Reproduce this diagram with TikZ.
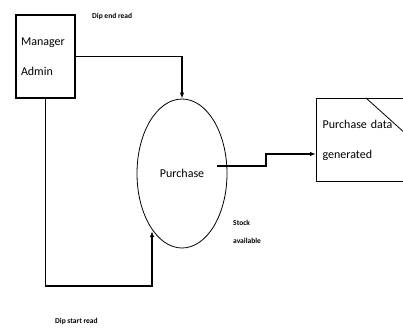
\documentclass[tikz,border=0pt]{standalone}
\usepackage{fontspec}
\setmainfont{Carlito}
\usetikzlibrary{arrows.meta,shapes.geometric}
\begin{document}
\begin{tikzpicture}[x=1pt, y=-1pt, line join=miter, font=\fontsize{12}{30}\selectfont,
	flow/.style={draw, line width=1.3pt, -{Latex[length=6pt,width=4.5pt]}},
	lbl/.style={font=\fontsize{7.5}{18}\selectfont\bfseries, anchor=west, align=left, inner sep=0pt}]
	\useasboundingbox (0,0) rectangle (403,330);
	
	\node[draw, line width=1.2pt, minimum width=59pt, minimum height=83pt, text width=49pt,
	align=left, inner sep=5pt] (admin) at (45.5,56.5) {Manager\\Admin};
	\node[ellipse, draw, line width=0.8pt, minimum width=90pt, minimum height=149pt,
	inner sep=0pt] (purchase) at (182,173.5) {Purchase};
	\node[draw, line width=1.2pt, anchor=north west, minimum width=100pt, minimum height=83pt,
	text width=88pt, align=left, inner sep=6pt] (store) at (316,98) {Purchase data\\generated\\[6pt]};
	\draw[line width=0.8pt] (366,98) -- (406,134);
	
	\coordinate (out) at (217,166);
	\coordinate (step) at (266,154);
	\coordinate (loop) at (152,286);
	\coordinate (inlet) at (152,231);
	
	\draw[flow] (admin.east) -| (purchase.north);
	\draw[flow] (admin.south) |- (loop) -- (inlet);
	\draw[flow] (out) -| (step) -- (store.west |- step);
	
	\node[lbl] (endread) at (92,16) {Dip end read};
	\node[lbl] (stock) at (233,232) {Stock\\available};
	\node[lbl] (startread) at (55,321) {Dip start read};
\end{tikzpicture}
\end{document}
